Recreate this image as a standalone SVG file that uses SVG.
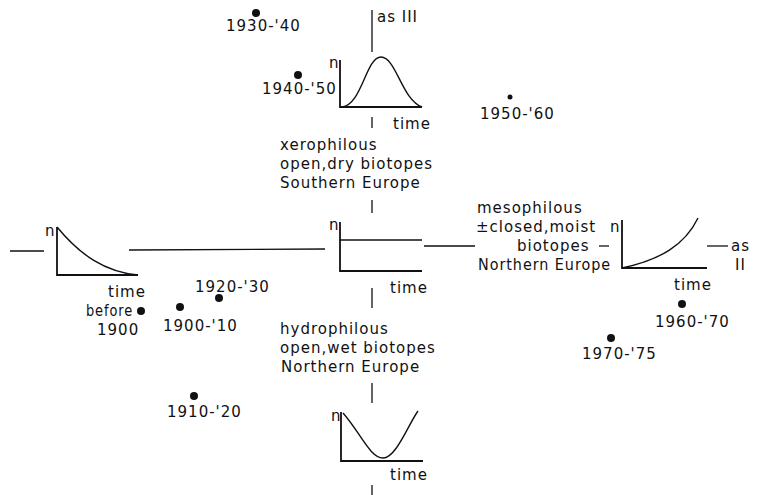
<svg xmlns="http://www.w3.org/2000/svg" width="760" height="495" viewBox="0 0 760 495">
<style>
text{font-family:"DejaVu Sans","Liberation Sans",sans-serif;font-size:15px;fill:#111;letter-spacing:1px}
.ax{fill:none;stroke:#111;stroke-width:1.8}
.cv{fill:none;stroke:#111;stroke-width:1.4}
.ln{stroke:#111;stroke-width:1.3;fill:none}
.dot{fill:#111}
</style>
<rect width="760" height="495" fill="#fff"/>
<g id="connectors">
<line class="ln" x1="372" y1="10" x2="372" y2="52"/>
<line class="ln" x1="372" y1="117" x2="372" y2="128"/>
<line class="ln" x1="372" y1="200" x2="372" y2="213"/>
<line class="ln" x1="372" y1="288" x2="372" y2="308"/>
<line class="ln" x1="372" y1="383" x2="372" y2="403"/>
<line class="ln" x1="372" y1="485" x2="372" y2="495"/>
<line class="ln" x1="10" y1="251" x2="44" y2="251"/>
<line class="ln" x1="129" y1="250" x2="325" y2="249"/>
<line class="ln" x1="424" y1="246" x2="475" y2="246"/>
<line class="ln" x1="599" y1="246" x2="609" y2="246"/>
<line class="ln" x1="707" y1="246" x2="728" y2="246"/>
</g>
<g id="graph-top">
<path class="ax" d="M340,60 V107 H422"/>
<path class="cv" d="M342,107 C362,105 366,57 381,57 C396,57 402,100 422,107"/>
<text x="329" y="68">n</text>
<text x="393" y="129">time</text>
<text x="377" y="22">as III</text>
</g>
<g id="label-xero">
<text x="280" y="150">xerophilous</text>
<text x="280" y="169">open,dry biotopes</text>
<text x="280" y="188">Southern Europe</text>
</g>
<g id="graph-center">
<path class="ax" d="M340,222 V271 H422"/>
<line class="cv" x1="340" y1="240" x2="422" y2="240"/>
<text x="329" y="230">n</text>
<text x="390" y="293">time</text>
</g>
<g id="graph-left">
<path class="ax" d="M57,227 V275 H138"/>
<path class="cv" d="M57,227 C80,255 105,272 138,275"/>
<text x="45" y="236">n</text>
<text x="108" y="297">time</text>
<text x="86" y="316" textLength="47" lengthAdjust="spacingAndGlyphs">before</text>
<text x="97" y="335">1900</text>
</g>
<g id="label-meso">
<text x="477" y="213">mesophilous</text>
<text x="476" y="232">±closed,moist</text>
<text x="517" y="251">biotopes</text>
<text x="478" y="270" textLength="133" lengthAdjust="spacingAndGlyphs">Northern Europe</text>
</g>
<g id="graph-right">
<path class="ax" d="M622,220 V268 H707"/>
<path class="cv" d="M622,268 C660,260 685,245 698,218"/>
<text x="610" y="232">n</text>
<text x="674" y="290">time</text>
<text x="731" y="251">as</text>
<text x="735" y="270">II</text>
</g>
<g id="label-hydro">
<text x="280" y="334">hydrophilous</text>
<text x="280" y="353">open,wet biotopes</text>
<text x="281" y="372">Northern Europe</text>
</g>
<g id="graph-bottom">
<path class="ax" d="M341,412 V461 H423"/>
<path class="cv" d="M343,413 C360,432 370,458 383,458 C396,458 408,425 418,411"/>
<text x="331" y="421">n</text>
<text x="390" y="480">time</text>
</g>
<g id="dots">
<circle class="dot" cx="256" cy="13" r="4"/>
<text x="226" y="31">1930-'40</text>
<circle class="dot" cx="298" cy="75" r="4"/>
<text x="262" y="94">1940-'50</text>
<circle class="dot" cx="510" cy="97" r="2.5"/>
<text x="480" y="119">1950-'60</text>
<circle class="dot" cx="141" cy="311" r="4"/>
<circle class="dot" cx="180" cy="307" r="4"/>
<text x="163" y="331">1900-'10</text>
<circle class="dot" cx="219" cy="298" r="4"/>
<text x="195" y="292">1920-'30</text>
<circle class="dot" cx="194" cy="396" r="4"/>
<text x="167" y="417">1910-'20</text>
<circle class="dot" cx="682" cy="304" r="4"/>
<text x="655" y="327">1960-'70</text>
<circle class="dot" cx="611" cy="338" r="4"/>
<text x="582" y="359">1970-'75</text>
</g>
</svg>
